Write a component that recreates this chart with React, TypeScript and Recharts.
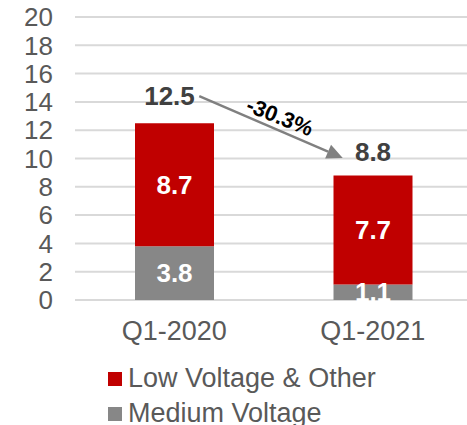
import React from 'react';
import { BarChart, Bar, XAxis, YAxis, CartesianGrid, LabelList, Legend, ReferenceLine } from 'recharts';

const categories = ['Q1-2020', 'Q1-2021'];
const mediumVoltage = [3.8, 1.1];
const lowVoltageOther = [8.7, 7.7];
const totals = [12.5, 8.8];
const changeLabel = '-30.3%';
const yTicks = [0, 2, 4, 6, 8, 10, 12, 14, 16, 18, 20];
const seriesNames = ['Low Voltage & Other', 'Medium Voltage'];

const data = categories.map((c, i) => ({
  category: c,
  medium: mediumVoltage[i],
  low: lowVoltageOther[i],
  total: totals[i],
}));

const FONT = '"Liberation Sans", Arial, sans-serif';
const RED = '#C00000';
const GRAY = '#878787';
const TEXT = '#595959';
const TOTAL_DX = [-5, 0];
const TOTAL_DY = [27, 23];

const TotalLabel = (props: any) => {
  const { x, y, width, value, index } = props;
  const cx = x + width / 2 + TOTAL_DX[index];
  const cy = y - TOTAL_DY[index];
  return (
    <text x={cx} y={cy} textAnchor="middle" dominantBaseline="central" fontFamily={FONT} fontSize={26} fontWeight="bold" fill="#404040">
      {value}
    </text>
  );
};

const InnerLabel = (props: any) => {
  const { x, y, width, height, value } = props;
  return (
    <text x={x + width / 2} y={y + height / 2} textAnchor="middle" dominantBaseline="central" fontFamily={FONT} fontSize={26} fontWeight="bold" fill="#FFFFFF">
      {value}
    </text>
  );
};

const ArrowShape = (props: any) => {
  const { x1, y1, x2, y2 } = props;
  if ([x1, y1, x2, y2].some((v) => typeof v !== 'number' || isNaN(v))) return null;
  const sx = x1 + 25;
  const sy = y1 - 27;
  const ex = x2 - 30;
  const ey = y2 - 17.5;
  const a = Math.atan2(ey - sy, ex - sx);
  const c = Math.cos(a);
  const s = Math.sin(a);
  const headLen = 16;
  const headHalf = 7.5;
  const bx = ex - headLen * c;
  const by = ey - headLen * s;
  const mx = (sx + ex) / 2 + 4 * c + 13 * s;
  const my = (sy + ey) / 2 + 4 * s - 13 * c;
  const deg = (a * 180) / Math.PI - 1.5;
  return (
    <g>
      <line x1={sx} y1={sy} x2={bx} y2={by} stroke="#808080" strokeWidth={2.5} />
      <polygon
        points={`${ex},${ey} ${bx - headHalf * s},${by + headHalf * c} ${bx + headHalf * s},${by - headHalf * c}`}
        fill="#808080"
      />
      <text
        x={mx}
        y={my}
        textAnchor="middle"
        dominantBaseline="central"
        fontFamily={FONT}
        fontSize={22}
        fontWeight="bold"
        fill="#000000"
        transform={`rotate(${deg}, ${mx}, ${my})`}
      >
        {changeLabel}
      </text>
    </g>
  );
};

const LegendContent = () => {
  const items = [
    { name: seriesNames[0], color: RED },
    { name: seriesNames[1], color: GRAY },
  ];
  return (
    <div style={{ fontFamily: FONT, fontSize: 27, color: TEXT }}>
      {items.map((it) => (
        <div key={it.name} style={{ display: 'flex', alignItems: 'center', height: 35, whiteSpace: 'nowrap' }}>
          <span style={{ display: 'inline-block', width: 14, height: 14, background: it.color, marginRight: 6 }} />
          <span>{it.name}</span>
        </div>
      ))}
    </div>
  );
};

export default function App() {
  return (
    <div style={{ position: 'absolute', left: 0, top: 0, width: 467, height: 425, overflow: 'hidden', background: '#fff' }}>
      <BarChart width={472} height={425} data={data} margin={{ top: 17, right: 0, left: 0, bottom: 80 }}>
        <CartesianGrid vertical={false} stroke="#D9D9D9" strokeWidth={2} />
        <XAxis
          dataKey="category"
          axisLine={false}
          tickLine={false}
          tickSize={0}
          tickMargin={21}
          height={45}
          tick={{ fontFamily: FONT, fontSize: 27, fill: TEXT }}
        />
        <YAxis
          domain={[0, 20]}
          ticks={yTicks}
          interval={0}
          axisLine={false}
          tickLine={false}
          tickSize={0}
          tickMargin={22}
          width={75}
          tick={{ fontFamily: FONT, fontSize: 26, fill: TEXT }}
        />
        <Bar dataKey="medium" stackId="a" fill={GRAY} barSize={79} isAnimationActive={false}>
          <LabelList dataKey="medium" content={InnerLabel} />
        </Bar>
        <Bar dataKey="low" stackId="a" fill={RED} barSize={79} isAnimationActive={false}>
          <LabelList dataKey="low" content={InnerLabel} />
          <LabelList dataKey="total" content={TotalLabel} />
        </Bar>
        <ReferenceLine
          segment={[
            { x: categories[0], y: totals[0] },
            { x: categories[1], y: totals[1] },
          ]}
          ifOverflow="visible"
          shape={ArrowShape}
        />
        <Legend
          layout="vertical"
          align="center"
          verticalAlign="middle"
          content={LegendContent}
          wrapperStyle={{ left: 108, top: 361, width: 360, height: 70 }}
        />
      </BarChart>
    </div>
  );
}
